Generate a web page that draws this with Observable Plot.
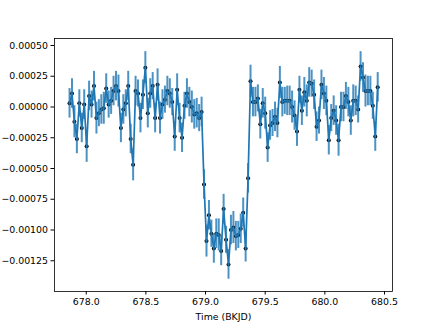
<!DOCTYPE html>
<html><head><meta charset="utf-8">
<script src="https://cdn.jsdelivr.net/npm/d3@7"></script>
<script src="https://cdn.jsdelivr.net/npm/@observablehq/plot@0.6"></script>
<style>body{margin:0;background:#fff}#chart{width:436px;height:327px}</style>
</head><body><div id="chart"></div>
<script>
const time = [
677.8600,677.8805,677.9010,677.9215,677.9420,677.9625,677.9830,678.0035,678.0240,678.0445,
678.0650,678.0855,678.1060,678.1265,678.1470,678.1675,678.1880,678.2085,678.2290,678.2495,
678.2700,678.2905,678.3110,678.3315,678.3520,678.3725,678.3930,678.4135,678.4340,678.4545,
678.4750,678.4955,678.5160,678.5365,678.5570,678.5775,678.5980,678.6185,678.6390,678.6595,
678.6800,678.7005,678.7210,678.7415,678.7620,678.7825,678.8030,678.8235,678.8440,678.8645,
678.8850,678.9055,678.9260,678.9465,678.9670,678.9875,679.0080,679.0285,679.0490,679.0695,
679.0900,679.1105,679.1310,679.1515,679.1720,679.1925,679.2130,679.2335,679.2540,679.2745,
679.2950,679.3155,679.3360,679.3565,679.3770,679.3975,679.4180,679.4385,679.4590,679.4795,
679.5000,679.5205,679.5410,679.5615,679.5820,679.6025,679.6230,679.6435,679.6640,679.6845,
679.7050,679.7255,679.7460,679.7665,679.7870,679.8075,679.8280,679.8485,679.8690,679.8895,
679.9100,679.9305,679.9510,679.9715,679.9920,680.0125,680.0330,680.0535,680.0740,680.0945,
680.1150,680.1355,680.1560,680.1765,680.1970,680.2175,680.2380,680.2585,680.2790,680.2995,
680.3200,680.3405,680.3610,680.3815,680.4020,680.4225,680.4430];

const flux = [
0.00003,0.00011,-0.00012,-0.00026,0.00003,-0.00017,0.00002,-0.00032,0.00009,0.00002,
0.00017,-0.00009,-0.00005,-0.00002,-0.00001,0.00015,0.00002,0.00005,0.00013,0.00017,
0.00013,-0.00017,-0.00002,0.00003,0.00017,-0.00026,-0.00047,0.00013,0.00011,-0.00009,
0.00010,0.00032,-0.00005,0.00011,0.00017,-0.00009,0.00018,-0.00009,0.00002,0.00006,
0.00013,0.00011,0.00004,-0.00024,0.00014,-0.00009,-0.00025,0.00001,0.00011,0.00004,
0.00000,-0.00006,-0.00005,-0.00009,-0.00004,-0.00063,-0.00109,-0.00088,-0.00103,-0.00115,
-0.00103,-0.00104,-0.00117,-0.00083,-0.00108,-0.00128,-0.00100,-0.00098,-0.00105,-0.00104,
-0.00099,-0.00086,-0.00115,-0.00058,0.00021,0.00004,0.00004,0.00007,-0.00014,0.00003,
-0.00005,-0.00033,-0.00015,-0.00013,-0.00008,-0.00013,0.00020,0.00004,0.00005,0.00005,
0.00005,0.00000,-0.00007,-0.00020,0.00014,-0.00003,0.00012,0.00005,0.00020,0.00019,
0.00010,-0.00016,-0.00011,0.00018,0.00011,0.00005,-0.00027,-0.00009,-0.00003,-0.00011,
-0.00027,0.00000,0.00000,0.00009,0.00004,-0.00011,0.00005,0.00005,-0.00002,0.00033,
0.00024,0.00013,0.00013,0.00013,0.00001,-0.00024,0.00016];

const fluxErr = [
0.00012,0.00012,0.00013,0.00012,0.00011,0.00012,0.00012,0.00013,0.00012,0.00011,
0.00012,0.00013,0.00011,0.00012,0.00013,0.00012,0.00011,0.00011,0.00012,0.00012,
0.00013,0.00012,0.00012,0.00011,0.00012,0.00012,0.00013,0.00012,0.00011,0.00012,
0.00012,0.00013,0.00012,0.00012,0.00011,0.00012,0.00013,0.00013,0.00012,0.00011,
0.00012,0.00012,0.00011,0.00012,0.00013,0.00012,0.00012,0.00011,0.00012,0.00012,
0.00013,0.00012,0.00012,0.00011,0.00012,0.00012,0.00013,0.00012,0.00011,0.00012,
0.00012,0.00013,0.00012,0.00012,0.00011,0.00012,0.00012,0.00013,0.00012,0.00011,
0.00012,0.00012,0.00011,0.00012,0.00013,0.00012,0.00012,0.00011,0.00012,0.00012,
0.00013,0.00012,0.00012,0.00011,0.00012,0.00012,0.00013,0.00012,0.00011,0.00012,
0.00012,0.00013,0.00012,0.00012,0.00011,0.00012,0.00012,0.00013,0.00012,0.00011,
0.00012,0.00012,0.00011,0.00012,0.00013,0.00012,0.00012,0.00011,0.00012,0.00012,
0.00013,0.00012,0.00012,0.00011,0.00012,0.00012,0.00013,0.00012,0.00011,0.00012,
0.00012,0.00013,0.00012,0.00012,0.00011,0.00012,0.00012];

const xTicks = [678.0, 678.5, 679.0, 679.5, 680.0, 680.5];
const yTicks = [-0.00125, -0.001, -0.00075, -0.0005, -0.00025, 0, 0.00025, 0.0005];
const xLabel = "Time (BKJD)";

const data = time.map((t, i) => ({t, f: flux[i], lo: flux[i] - fluxErr[i], hi: flux[i] + fluxErr[i]}));

const chart = Plot.plot({
  width: 436, height: 327,
  marginLeft: 54, marginRight: 44, marginTop: 38, marginBottom: 36,
  style: {fontFamily: "DejaVu Sans", fontSize: "9.4px", color: "#000", background: "#fff"},
  x: {domain: [677.734, 680.567], ticks: xTicks, tickFormat: d3.format(".1f"), tickSize: 3.5, tickPadding: 3,
      label: xLabel, labelAnchor: "center", labelArrow: "none", labelOffset: 28},
  y: {domain: [-0.0015, 0.000557], ticks: yTicks, tickFormat: d3.format(".5f"), tickSize: 3.5, tickPadding: 3, label: null},
  marks: [
    Plot.dot(data, {x: "t", y: "f", r: 2, fill: "#000", stroke: "none"}),
    Plot.ruleX(data, {x: "t", y1: "lo", y2: "hi", stroke: "#1f77b4", strokeWidth: 2, strokeOpacity: 0.8}),
    Plot.line(data, {x: "t", y: "f", stroke: "#1f77b4", strokeWidth: 1.7}),
    Plot.frame({stroke: "#000", strokeWidth: 0.8})
  ]
});
document.getElementById("chart").appendChild(chart);
</script>
</body></html>
